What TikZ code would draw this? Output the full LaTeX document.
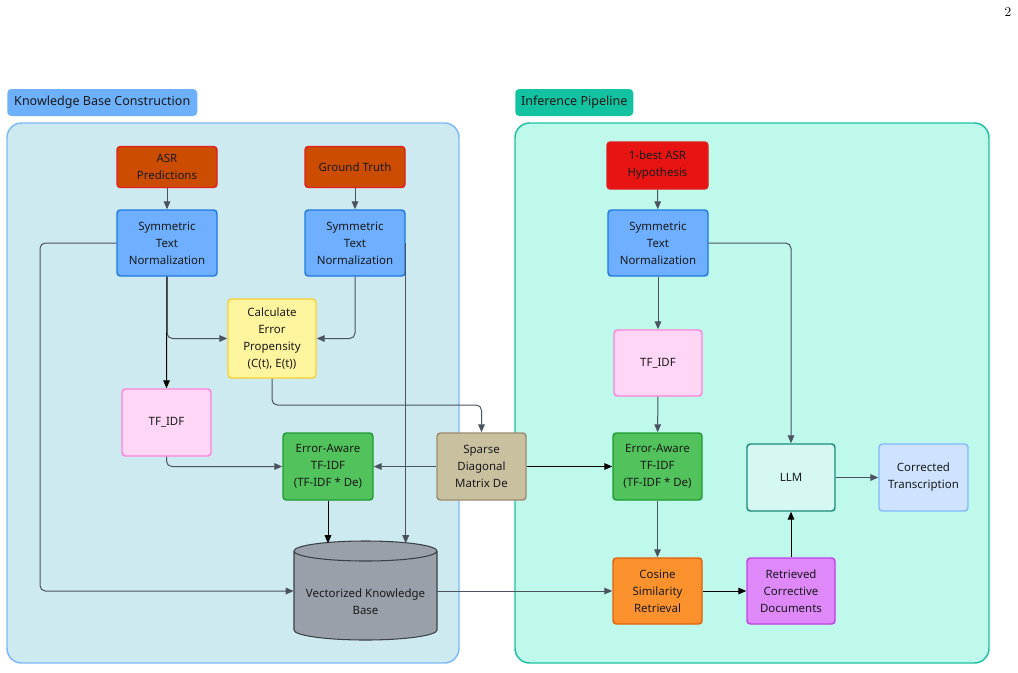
\documentclass[tikz,border=0pt]{standalone}
\usepackage{fontspec}
\newfontfamily\sans{Noto Sans}
\usetikzlibrary{arrows.meta}
\definecolor{edgegray}{HTML}{4B5260}
\definecolor{lclfill}{HTML}{CDEAF1}
\definecolor{lclline}{HTML}{7DB9F7}
\definecolor{llab}{HTML}{6DB1FC}
\definecolor{rclfill}{HTML}{BEF9EC}
\definecolor{rclline}{HTML}{1DC2A2}
\definecolor{rlab}{HTML}{12C2A0}
\definecolor{asrfill}{HTML}{CC4C02}
\definecolor{redline}{HTML}{E21E1E}
\definecolor{onebest}{HTML}{E81414}
\definecolor{blufill}{HTML}{6EB0FF}
\definecolor{bluline}{HTML}{1E78E0}
\definecolor{yelfill}{HTML}{FFF59E}
\definecolor{yelline}{HTML}{F5D232}
\definecolor{pinkfill}{HTML}{FFD6F5}
\definecolor{pinkline}{HTML}{FF82DA}
\definecolor{grnfill}{HTML}{52C35C}
\definecolor{grnline}{HTML}{1E9A30}
\definecolor{tanfill}{HTML}{C9C0A0}
\definecolor{tanline}{HTML}{9B8B6B}
\definecolor{cylfill}{HTML}{9AA0A9}
\definecolor{cylline}{HTML}{3C4148}
\definecolor{orgfill}{HTML}{FB922E}
\definecolor{orgline}{HTML}{E0600E}
\definecolor{purfill}{HTML}{DE88FA}
\definecolor{purline}{HTML}{C040E8}
\definecolor{llmfill}{HTML}{D6F8F2}
\definecolor{llmline}{HTML}{1A8A78}
\definecolor{corfill}{HTML}{CEE3FF}
\definecolor{corline}{HTML}{82B9F8}
\tikzset{
  box/.style={draw, rounded corners=2.5pt, line width=1.1pt, align=center,
    font=\sans\fontsize{8.6}{12.75}\selectfont, text=black!90, inner sep=1pt},
  arr/.style={-{Triangle[length=6pt,width=5pt]}, line width=0.75pt, draw=edgegray, rounded corners=4pt},
  blk/.style={arr, draw=black},
  grp/.style={rounded corners=3pt, font=\sans\fontsize{9.4}{11}\selectfont, text=black!90,
    minimum height=20.25pt, inner xsep=4pt, anchor=west}
}
\begin{document}
\begin{tikzpicture}[x=0.75pt,y=-0.75pt]
\useasboundingbox (0,0) rectangle (1018,672);
\node[font=\fontsize{10}{12}\selectfont] (pg) at (1008,12) {2};
% clusters
\draw[fill=lclfill, draw=lclline, line width=1.1pt, rounded corners=11pt] (7,123) rectangle (459,663);
\draw[fill=rclfill, draw=rclline, line width=1.1pt, rounded corners=11pt] (515,123) rectangle (989,663);
\node[grp, fill=llab, minimum width=142.5pt] (kbc) at (7,102.5) {Knowledge Base Construction};
\node[grp, fill=rlab, minimum width=88.5pt] (inf) at (515,102.5) {Inference Pipeline};
% left nodes
\node[box, fill=asrfill, draw=redline, minimum width=75pt, minimum height=30.75pt] (asr) at (167,167) {ASR\\Predictions};
\node[box, fill=asrfill, draw=redline, minimum width=75pt, minimum height=30.75pt] (gt) at (355,167) {Ground Truth};
\node[box, fill=blufill, draw=bluline, minimum width=75pt, minimum height=49.5pt] (sym1) at (167,243) {Symmetric\\Text\\Normalization};
\node[box, fill=blufill, draw=bluline, minimum width=75pt, minimum height=49.5pt] (sym2) at (355,243) {Symmetric\\Text\\Normalization};
\node[box, fill=yelfill, draw=yelline, minimum width=66pt, minimum height=59.25pt] (calc) at (272,338.5) {Calculate\\Error\\Propensity\\(C(t), E(t))};
\node[box, fill=pinkfill, draw=pinkline, minimum width=66.75pt, minimum height=50.25pt] (tfl) at (166.5,422.5) {TF\_IDF};
\node[box, fill=grnfill, draw=grnline, minimum width=67.5pt, minimum height=50.25pt] (eal) at (328,466.5) {Error-Aware\\TF-IDF\\(TF-IDF * De)};
\node[box, fill=tanfill, draw=tanline, minimum width=66.75pt, minimum height=50.25pt] (sdm) at (481.5,466.5) {Sparse\\Diagonal\\Matrix De};
% cylinder
\node[minimum width=107.25pt, minimum height=74.25pt, inner sep=0pt] (kb) at (365.5,591) {};
\fill[cylfill] (294,551) -- (294,630) arc[start angle=180, end angle=360, x radius=53.625pt, y radius=7.5pt]
  -- (437,551) arc[start angle=0, end angle=180, x radius=53.625pt, y radius=7.5pt] -- cycle;
\draw[cylline, line width=0.8pt] (294,551) -- (294,630) arc[start angle=180, end angle=360, x radius=53.625pt, y radius=7.5pt]
  -- (437,551) arc[start angle=0, end angle=180, x radius=53.625pt, y radius=7.5pt]
  arc[start angle=180, end angle=360, x radius=53.625pt, y radius=7.5pt];
\node[align=center, font=\sans\fontsize{8.6}{12.75}\selectfont, text=black!90] (kbt) at (365.5,601.5) {Vectorized Knowledge\\Base};
% right nodes
\node[box, fill=onebest, draw=redline, minimum width=75.75pt, minimum height=35.25pt] (one) at (657.5,165.5) {1-best ASR\\Hypothesis};
\node[box, fill=blufill, draw=bluline, minimum width=75pt, minimum height=49.5pt] (sym3) at (658,243) {Symmetric\\Text\\Normalization};
\node[box, fill=pinkfill, draw=pinkline, minimum width=66pt, minimum height=49.5pt] (tfr) at (658,363) {TF\_IDF};
\node[box, fill=grnfill, draw=grnline, minimum width=66.75pt, minimum height=50.25pt] (ear) at (657.5,466.5) {Error-Aware\\TF-IDF\\(TF-IDF * De)};
\node[box, fill=orgfill, draw=orgline, minimum width=66.75pt, minimum height=49.5pt] (cos) at (657.5,591) {Cosine\\Similarity\\Retrieval};
\node[box, fill=purfill, draw=purline, minimum width=66pt, minimum height=49.5pt] (ret) at (791,591) {Retrieved\\Corrective\\Documents};
\node[box, fill=llmfill, draw=llmline, minimum width=66pt, minimum height=50.25pt] (llm) at (791,477.5) {LLM};
\node[box, fill=corfill, draw=corline, minimum width=66.75pt, minimum height=50.25pt] (cor) at (923.5,477.5) {Corrected\\Transcription};
% coordinates
\coordinate (b1) at (40,591);
\coordinate (b2) at (272,405);
% edges left
\draw[arr] (asr) -- (sym1);
\draw[arr] (gt) -- (sym2);
\draw[arr] (sym1.south) |- (calc.west);
\draw[arr] (sym2.south) |- (calc.east);
\draw[blk] (sym1.south) -- (tfl.north);
\draw[arr] (sym1.west) -| (b1) -- (kb.west);
\draw[arr] (sym2.east) -- ([yshift=-1.5pt]sym2.east |- kb.north);
\draw[arr] (calc.south) -- (b2) -| (sdm.north);
\draw[arr] (tfl.south) |- (eal.west);
\draw[arr] (sdm.west) -- (eal.east);
\draw[blk] (eal.south) -- ([yshift=-1.5pt]eal.south |- kb.north);
\draw[blk] (sdm.east) -- (ear.west);
% edges right
\draw[arr] (one) -- (sym3);
\draw[arr] (sym3) -- (tfr);
\draw[arr] (sym3.east) -| (llm.north);
\draw[arr] (tfr) -- (ear);
\draw[arr] (ear) -- (cos);
\draw[arr] (kb.east) -- (cos.west);
\draw[blk] (cos) -- (ret);
\draw[blk] (ret) -- (llm);
\draw[arr] (llm) -- (cor);
\end{tikzpicture}
\end{document}
